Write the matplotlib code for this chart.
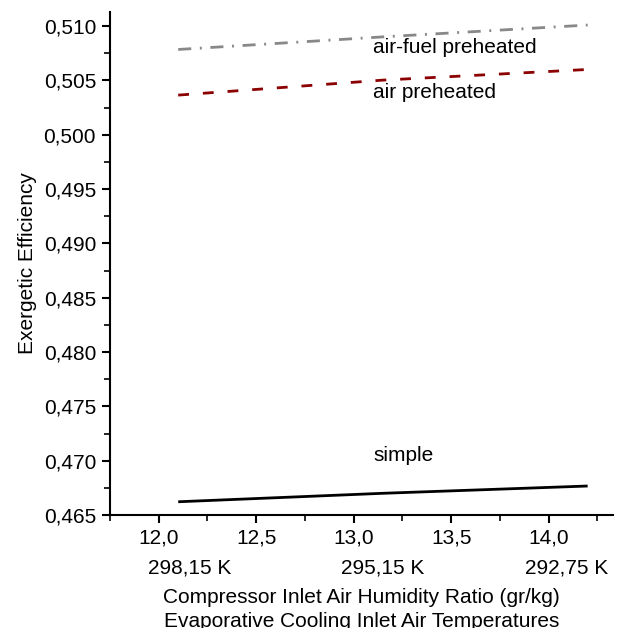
import numpy as np
import matplotlib
matplotlib.use("Agg")
import matplotlib.pyplot as plt
from matplotlib.ticker import MultipleLocator, FuncFormatter

plt.rcParams["font.family"] = ["Liberation Sans", "DejaVu Sans"]
plt.rcParams["font.size"] = 15

# humidity ratio (gr/kg) and exergetic efficiency per configuration
humidity = [12.1, 13.15, 14.2]
eff_simple = [0.46622, 0.46700, 0.46767]
eff_air = [0.50365, 0.50503, 0.50601]
eff_air_fuel = [0.50785, 0.50901, 0.51010]

temp_labels = ["298,15 K", "295,15 K", "292,75 K"]
temp_pos = [12.16, 13.15, 14.09]

comma = FuncFormatter(lambda v, p: f"{v:.1f}".replace(".", ","))
comma3 = FuncFormatter(lambda v, p: f"{v:.3f}".replace(".", ","))

fig = plt.figure(figsize=(6.21, 6.28), dpi=100)
ax = fig.add_axes([0.1771, 0.1799, 0.81, 0.801])

ax.plot(humidity, eff_simple, color="black", lw=2.0, solid_capstyle="butt")
ax.plot(humidity, eff_air, color="#8B0000", lw=2.0, dashes=(3.9, 5.0))
ax.plot(humidity, eff_air_fuel, color="#888888", lw=2.0,
        dashes=(4.7, 3.1, 0.7, 3.1))

ax.text(13.1, 0.5080, "air-fuel preheated", va="center", ha="left")
ax.text(13.1, 0.5039, "air preheated", va="center", ha="left")
ax.text(13.1, 0.4705, "simple", va="center", ha="left")

ax.set_xlim(11.75, 14.33)
ax.set_ylim(0.465, 0.5113)
ax.xaxis.set_major_locator(MultipleLocator(0.5))
ax.xaxis.set_minor_locator(MultipleLocator(0.25))
ax.yaxis.set_major_locator(MultipleLocator(0.005))
ax.yaxis.set_minor_locator(MultipleLocator(0.0025))
ax.xaxis.set_major_formatter(comma)
ax.yaxis.set_major_formatter(comma3)

ax.spines[["top", "right"]].set_visible(False)
for s in ["left", "bottom"]:
    ax.spines[s].set_linewidth(1.5)
ax.tick_params(which="major", direction="out", length=6, width=1.5)
ax.tick_params(which="minor", direction="out", length=4, width=1.2)
ax.tick_params(axis="x", which="major", pad=3.5)
ax.tick_params(axis="y", which="major", pad=4)

for lab, xp in zip(temp_labels, temp_pos):
    ax.text(xp, -0.105, lab, transform=ax.get_xaxis_transform(),
            ha="center", va="center")

ax.text(0.5, -0.163, "Compressor Inlet Air Humidity Ratio (gr/kg)",
        transform=ax.transAxes, ha="center", va="center")
ax.text(0.5, -0.212, "Evaporative Cooling Inlet Air Temperatures",
        transform=ax.transAxes, ha="center", va="center")
ax.set_ylabel("Exergetic Efficiency", labelpad=5)

fig.savefig("out.png", dpi=100)
